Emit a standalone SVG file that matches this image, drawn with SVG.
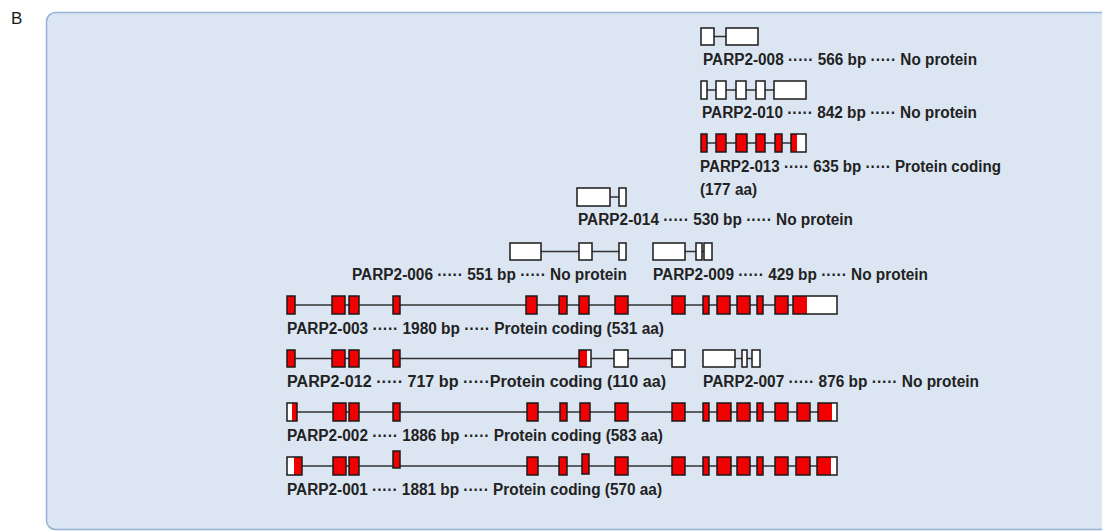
<svg xmlns="http://www.w3.org/2000/svg" width="1102" height="531" viewBox="0 0 1102 531">
<style>
.panel{fill:#dce6f2;stroke:#95b3d7;stroke-width:1.5}
.w{fill:#ffffff;stroke:#1a1a1a;stroke-width:1.5}
.r{fill:#f00000;stroke:#1a1a1a;stroke-width:1.5}
.wf{fill:#ffffff;stroke:none}
.rf{fill:#f00000;stroke:none}
.o{fill:none;stroke:#1a1a1a;stroke-width:1.5}
.in{stroke:#333333;stroke-width:1.5;fill:none}
.t{font-family:"Liberation Sans",Arial,sans-serif;font-weight:bold;font-size:16px;fill:#222222}
.lbl{font-family:"Liberation Sans",Arial,sans-serif;font-size:17px;fill:#1a1a1a}
</style>
<rect x="0" y="0" width="1102" height="531" fill="#ffffff"/>
<text class="lbl" x="11" y="24">B</text>
<rect class="panel" x="46.5" y="12.5" width="1070" height="517" rx="9" ry="9"/>

<g id="connectors">
<line class="in" x1="714" y1="36.5" x2="726" y2="36.5"/>
<line class="in" x1="707" y1="90" x2="774" y2="90"/>
<line class="in" x1="707" y1="143" x2="791" y2="143"/>
<line class="in" x1="610" y1="197" x2="619" y2="197"/>
<line class="in" x1="541" y1="251.5" x2="619" y2="251.5"/>
<line class="in" x1="685" y1="251.5" x2="704" y2="251.5"/>
<line class="in" x1="295" y1="305" x2="793" y2="305"/>
<line class="in" x1="295" y1="358.5" x2="672" y2="358.5"/>
<line class="in" x1="735" y1="358.5" x2="752" y2="358.5"/>
<line class="in" x1="297" y1="412" x2="818" y2="412"/>
<line class="in" x1="302" y1="466" x2="817" y2="466"/>
</g>

<g id="PARP2-008">
<rect class="w" x="701" y="28" width="13" height="17"/>
<rect class="w" x="726" y="28" width="32" height="17"/>
<text class="t" x="703" y="65" textLength="274" lengthAdjust="spacingAndGlyphs">PARP2-008 ····· 566 bp ····· No protein</text>
</g>

<g id="PARP2-010">
<rect class="w" x="701" y="81" width="6" height="18"/>
<rect class="w" x="716" y="81" width="10" height="18"/>
<rect class="w" x="736" y="81" width="10" height="18"/>
<rect class="w" x="756" y="81" width="9" height="18"/>
<rect class="w" x="774" y="81" width="32" height="18"/>
<text class="t" x="702" y="118" textLength="275" lengthAdjust="spacingAndGlyphs">PARP2-010 ····· 842 bp ····· No protein</text>
</g>

<g id="PARP2-013">
<rect class="r" x="701" y="134" width="6" height="18"/>
<rect class="r" x="716" y="134" width="10" height="18"/>
<rect class="r" x="736" y="134" width="11" height="18"/>
<rect class="r" x="756" y="134" width="9" height="18"/>
<rect class="r" x="775" y="134" width="7" height="18"/>
<rect class="rf" x="791" y="134" width="6" height="18"/>
<rect class="wf" x="797" y="134" width="9" height="18"/>
<rect class="o" x="791" y="134" width="15" height="18"/>
<text class="t" x="700" y="172" textLength="301" lengthAdjust="spacingAndGlyphs">PARP2-013 ····· 635 bp ····· Protein coding</text>
<text class="t" x="700" y="195" textLength="57" lengthAdjust="spacingAndGlyphs">(177 aa)</text>
</g>

<g id="PARP2-014">
<rect class="w" x="577" y="188" width="33" height="18"/>
<rect class="w" x="619" y="188" width="7" height="18"/>
<text class="t" x="578" y="225" textLength="275" lengthAdjust="spacingAndGlyphs">PARP2-014 ····· 530 bp ····· No protein</text>
</g>

<g id="PARP2-006">
<rect class="w" x="510" y="243" width="31" height="17"/>
<rect class="w" x="579" y="243" width="13" height="17"/>
<rect class="w" x="619" y="243" width="7" height="17"/>
<text class="t" x="352" y="280" textLength="275" lengthAdjust="spacingAndGlyphs">PARP2-006 ····· 551 bp ····· No protein</text>
</g>

<g id="PARP2-009">
<rect class="w" x="653" y="243" width="32" height="17"/>
<rect class="w" x="696" y="243" width="6" height="17"/>
<rect class="w" x="704" y="243" width="8" height="17"/>
<text class="t" x="653" y="280" textLength="275" lengthAdjust="spacingAndGlyphs">PARP2-009 ····· 429 bp ····· No protein</text>
</g>

<g id="PARP2-003">
<rect class="r" x="287" y="296" width="8" height="18"/>
<rect class="r" x="332" y="296" width="13" height="18"/>
<rect class="r" x="349" y="296" width="10" height="18"/>
<rect class="r" x="393" y="296" width="7" height="18"/>
<rect class="r" x="526" y="296" width="11" height="18"/>
<rect class="r" x="559" y="296" width="8" height="18"/>
<rect class="r" x="579" y="296" width="10" height="18"/>
<rect class="r" x="615" y="296" width="13" height="18"/>
<rect class="r" x="672" y="296" width="13" height="18"/>
<rect class="r" x="703" y="296" width="6" height="18"/>
<rect class="r" x="717" y="296" width="13" height="18"/>
<rect class="r" x="737" y="296" width="13" height="18"/>
<rect class="r" x="757" y="296" width="6" height="18"/>
<rect class="r" x="775" y="296" width="13" height="18"/>
<rect class="rf" x="793" y="296" width="14" height="18"/>
<rect class="wf" x="807" y="296" width="30" height="18"/>
<rect class="o" x="793" y="296" width="44" height="18"/>
<text class="t" x="287" y="334" textLength="377" lengthAdjust="spacingAndGlyphs">PARP2-003 ····· 1980 bp ····· Protein coding (531 aa)</text>
</g>

<g id="PARP2-012">
<rect class="r" x="287" y="350" width="8" height="17"/>
<rect class="r" x="332" y="350" width="13" height="17"/>
<rect class="r" x="349" y="350" width="10" height="17"/>
<rect class="r" x="393" y="350" width="7" height="17"/>
<rect class="rf" x="579" y="350" width="8" height="17"/>
<rect class="wf" x="587" y="350" width="4" height="17"/>
<rect class="o" x="579" y="350" width="12" height="17"/>
<rect class="w" x="614" y="350" width="14" height="17"/>
<rect class="w" x="672" y="350" width="13" height="17"/>
<text class="t" x="287" y="387" textLength="379" lengthAdjust="spacingAndGlyphs">PARP2-012 ····· 717 bp ·····Protein coding (110 aa)</text>
</g>

<g id="PARP2-007">
<rect class="w" x="703" y="350" width="32" height="17"/>
<rect class="w" x="742" y="350" width="5" height="17"/>
<rect class="w" x="752" y="350" width="8" height="17"/>
<text class="t" x="703" y="387" textLength="276" lengthAdjust="spacingAndGlyphs">PARP2-007 ····· 876 bp ····· No protein</text>
</g>

<g id="PARP2-002">
<rect class="wf" x="287" y="403" width="5" height="18"/>
<rect class="rf" x="292" y="403" width="5" height="18"/>
<rect class="o" x="287" y="403" width="10" height="18"/>
<rect class="r" x="333" y="403" width="13" height="18"/>
<rect class="r" x="349" y="403" width="10" height="18"/>
<rect class="r" x="393" y="403" width="7" height="18"/>
<rect class="r" x="527" y="403" width="11" height="18"/>
<rect class="r" x="560" y="403" width="7" height="18"/>
<rect class="r" x="580" y="403" width="10" height="18"/>
<rect class="r" x="615" y="403" width="13" height="18"/>
<rect class="r" x="672" y="403" width="13" height="18"/>
<rect class="r" x="703" y="403" width="6" height="18"/>
<rect class="r" x="717" y="403" width="14" height="18"/>
<rect class="r" x="737" y="403" width="13" height="18"/>
<rect class="r" x="757" y="403" width="6" height="18"/>
<rect class="r" x="775" y="403" width="13" height="18"/>
<rect class="r" x="797" y="403" width="13" height="18"/>
<rect class="rf" x="818" y="403" width="14" height="18"/>
<rect class="wf" x="832" y="403" width="5" height="18"/>
<rect class="o" x="818" y="403" width="19" height="18"/>
<text class="t" x="287" y="441" textLength="376" lengthAdjust="spacingAndGlyphs">PARP2-002 ····· 1886 bp ····· Protein coding (583 aa)</text>
</g>

<g id="PARP2-001">
<rect class="wf" x="287" y="457" width="7" height="18"/>
<rect class="rf" x="294" y="457" width="8" height="18"/>
<rect class="o" x="287" y="457" width="15" height="18"/>
<rect class="r" x="333" y="457" width="13" height="18"/>
<rect class="r" x="349" y="457" width="10" height="18"/>
<rect class="r" x="393" y="451" width="7" height="17"/>
<rect class="r" x="527" y="457" width="11" height="18"/>
<rect class="r" x="559" y="457" width="8" height="18"/>
<rect class="r" x="582" y="454" width="7" height="20"/>
<rect class="r" x="615" y="457" width="13" height="18"/>
<rect class="r" x="672" y="457" width="13" height="18"/>
<rect class="r" x="703" y="457" width="6" height="18"/>
<rect class="r" x="717" y="457" width="14" height="18"/>
<rect class="r" x="737" y="457" width="13" height="18"/>
<rect class="r" x="757" y="457" width="6" height="18"/>
<rect class="r" x="775" y="457" width="13" height="18"/>
<rect class="r" x="796" y="457" width="14" height="18"/>
<rect class="rf" x="817" y="457" width="14" height="18"/>
<rect class="wf" x="831" y="457" width="6" height="18"/>
<rect class="o" x="817" y="457" width="20" height="18"/>
<text class="t" x="287" y="495" textLength="375" lengthAdjust="spacingAndGlyphs">PARP2-001 ····· 1881 bp ····· Protein coding (570 aa)</text>
</g>
</svg>
